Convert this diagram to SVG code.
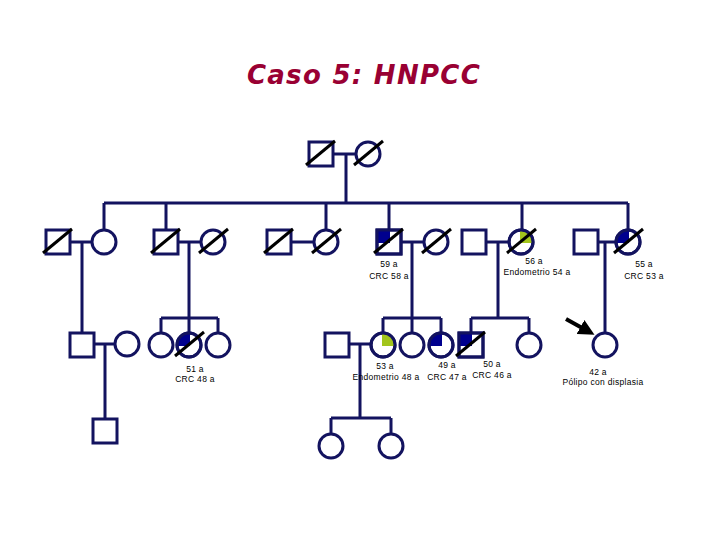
<svg xmlns="http://www.w3.org/2000/svg" width="720" height="540" viewBox="0 0 720 540">
<style>
.ln{stroke:#13135f;stroke-width:3;fill:none}
.sq,.ci{fill:#fff;stroke:#13135f;stroke-width:3}
.o{fill:none;stroke:#13135f;stroke-width:3}
.blue{fill:#00008e}
.green{fill:#a2c51c}
.dead{stroke:#000;stroke-width:3}
.lb{font-family:"Liberation Sans",Arial,sans-serif;font-size:8.5px;letter-spacing:0.3px;fill:#000;text-anchor:middle}
.title{font-family:"DejaVu Sans",Verdana,sans-serif;font-weight:bold;font-style:italic;font-size:26px;letter-spacing:1.3px;fill:#990033;text-anchor:middle}
</style>
<defs>
<marker id="ah" markerWidth="4" markerHeight="4" refX="1" refY="2" orient="auto" markerUnits="strokeWidth">
<path d="M0,0 L4,2 L0,4 Z" fill="#000"/>
</marker>
</defs>
<rect width="720" height="540" fill="#fff"/>
<text class="title" x="364" y="84">Caso 5: HNPCC</text>

<g id="connectors">
<path class="ln" d="M333,154 H356 M346,154 V203 M104,203 H628"/>
<path class="ln" d="M104,203 V230 M166,203 V230 M326,203 V230 M389,203 V230 M522,203 V230 M628,203 V230"/>
<path class="ln" d="M70,242 H92 M82,242 V333"/>
<path class="ln" d="M178,242 H201 M189,242 V318 M161,318 H218 M161,318 V333 M189,318 V333 M218,318 V333"/>
<path class="ln" d="M291,242 H313"/>
<path class="ln" d="M401,242 H424 M412,242 V318 M383,318 H441 M383,318 V333 M412,318 V333 M441,318 V333"/>
<path class="ln" d="M486,242 H508 M498,242 V318 M471,318 H529 M471,318 V333 M529,318 V333"/>
<path class="ln" d="M598,242 H616 M605,242 V333"/>
<path class="ln" d="M94,344 H115 M105,344 V419"/>
<path class="ln" d="M349,344 H371 M360,344 V418 M331,418 H391 M331,418 V434 M391,418 V434"/>
<line x1="566" y1="319" x2="584" y2="329" stroke="#000" stroke-width="4" marker-end="url(#ah)"/>
</g>

<g id="I-1"><rect class="sq" x="309" y="142" width="24" height="24"/><line class="dead" x1="306" y1="165" x2="335" y2="141"/></g>
<g id="I-2"><circle class="ci" cx="368" cy="154" r="12"/><line class="dead" x1="354" y1="165" x2="383" y2="141"/></g>

<g id="II-1"><rect class="sq" x="46" y="230" width="24" height="24"/><line class="dead" x1="43" y1="253" x2="72" y2="229"/></g>
<g id="II-2"><circle class="ci" cx="104" cy="242" r="12"/></g>
<g id="II-3"><rect class="sq" x="154" y="230" width="24" height="24"/><line class="dead" x1="151" y1="253" x2="180" y2="229"/></g>
<g id="II-4"><circle class="ci" cx="213" cy="242" r="12"/><line class="dead" x1="199" y1="253" x2="228" y2="229"/></g>
<g id="II-5"><rect class="sq" x="267" y="230" width="24" height="24"/><line class="dead" x1="264" y1="253" x2="293" y2="229"/></g>
<g id="II-6"><circle class="ci" cx="326" cy="242" r="12"/><line class="dead" x1="312" y1="253" x2="341" y2="229"/></g>
<g id="II-7"><rect class="sq" x="377" y="230" width="24" height="24"/><rect class="blue" x="377" y="230" width="13" height="13"/><rect class="o" x="377" y="230" width="24" height="24"/><line class="dead" x1="374" y1="253" x2="403" y2="229"/>
<text class="lb" x="389" y="267">59 a</text><text class="lb" x="389" y="279">CRC 58 a</text></g>
<g id="II-8"><circle class="ci" cx="436" cy="242" r="12"/><line class="dead" x1="422" y1="253" x2="451" y2="229"/></g>
<g id="II-9"><rect class="sq" x="462" y="230" width="24" height="24"/></g>
<g id="II-10"><circle class="ci" cx="521" cy="242" r="12"/><path class="green" d="M520,243 V230 A13,13 0 0 1 533,243 Z"/><circle class="o" cx="521" cy="242" r="12"/><line class="dead" x1="507" y1="253" x2="536" y2="229"/>
<text class="lb" x="534" y="264">56 a</text><text class="lb" x="537" y="275">Endometrio 54 a</text></g>
<g id="II-11"><rect class="sq" x="574" y="230" width="24" height="24"/></g>
<g id="II-12"><circle class="ci" cx="628" cy="242" r="12"/><path class="blue" d="M629,243 H616 A13,13 0 0 1 629,230 Z"/><circle class="o" cx="628" cy="242" r="12"/><line class="dead" x1="614" y1="253" x2="643" y2="229"/>
<text class="lb" x="644" y="267">55 a</text><text class="lb" x="644" y="279">CRC 53 a</text></g>

<g id="III-1"><rect class="sq" x="70" y="333" width="24" height="24"/></g>
<g id="III-2"><circle class="ci" cx="127" cy="344" r="12"/></g>
<g id="III-3"><circle class="ci" cx="161" cy="345" r="12"/></g>
<g id="III-4"><circle class="ci" cx="189" cy="345" r="12"/><path class="blue" d="M190,346 H177 A13,13 0 0 1 190,333 Z"/><circle class="o" cx="189" cy="345" r="12"/><line class="dead" x1="175" y1="356" x2="204" y2="332"/>
<text class="lb" x="195" y="372">51 a</text><text class="lb" x="195" y="382">CRC 48 a</text></g>
<g id="III-5"><circle class="ci" cx="218" cy="345" r="12"/></g>
<g id="III-6"><rect class="sq" x="325" y="333" width="24" height="24"/></g>
<g id="III-7"><circle class="ci" cx="383" cy="345" r="12"/><path class="green" d="M382,346 V333 A13,13 0 0 1 395,346 Z"/><circle class="o" cx="383" cy="345" r="12"/>
<text class="lb" x="385" y="369">53 a</text><text class="lb" x="386" y="380">Endometrio 48 a</text></g>
<g id="III-8"><circle class="ci" cx="412" cy="345" r="12"/></g>
<g id="III-9"><circle class="ci" cx="441" cy="345" r="12"/><path class="blue" d="M442,346 H429 A13,13 0 0 1 442,333 Z"/><circle class="o" cx="441" cy="345" r="12"/>
<text class="lb" x="447" y="368">49 a</text><text class="lb" x="447" y="380">CRC 47 a</text></g>
<g id="III-10"><rect class="sq" x="459" y="333" width="24" height="24"/><rect class="blue" x="459" y="333" width="13" height="13"/><rect class="o" x="459" y="333" width="24" height="24"/><line class="dead" x1="456" y1="356" x2="485" y2="332"/>
<text class="lb" x="492" y="367">50 a</text><text class="lb" x="492" y="378">CRC 46 a</text></g>
<g id="III-11"><circle class="ci" cx="529" cy="345" r="12"/></g>
<g id="III-12"><circle class="ci" cx="605" cy="345" r="12"/>
<text class="lb" x="598" y="375">42 a</text><text class="lb" x="603" y="385">Pólipo con displasia</text></g>

<g id="IV-1"><rect class="sq" x="93" y="419" width="24" height="24"/></g>
<g id="IV-2"><circle class="ci" cx="331" cy="446" r="12"/></g>
<g id="IV-3"><circle class="ci" cx="391" cy="446" r="12"/></g>
</svg>
